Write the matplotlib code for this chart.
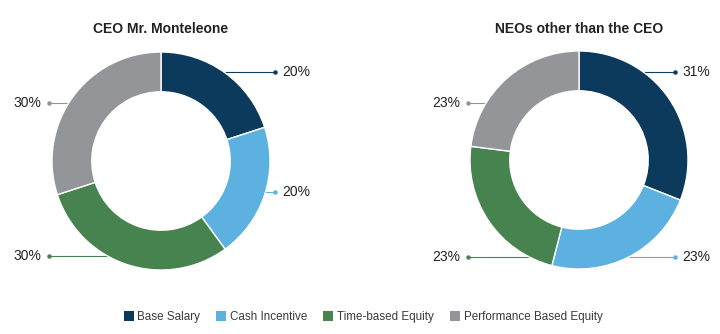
import numpy as np
import matplotlib.pyplot as plt
from matplotlib.patches import Patch

plt.rcParams['font.family'] = ['Liberation Sans', 'DejaVu Sans']

categories = ['Base Salary', 'Cash Incentive', 'Time-based Equity', 'Performance Based Equity']
colors = ['#0c3a5d', '#5cb1e1', '#46834e', '#939598']
ceo_values = [20, 20, 30, 30]
neo_values = [31, 23, 23, 23]
titles = ['CEO Mr. Monteleone', 'NEOs other than the CEO']

# label layout: y of leader line and side, in pie units
ceo_label_y = [0.817, -0.284, -0.872, 0.532]
neo_label_y = [0.807, -0.89, -0.89, 0.523]
ceo_side = [1, 1, -1, -1]
neo_side = [1, 1, -1, -1]

W, H = 720, 334
R = 109.0  # outer radius in px

fig = plt.figure(figsize=(7.2, 3.34), dpi=100)


def donut(rect, cx, cy, values, label_y, side, dot_x, title):
    # rect in figure fraction; cx, cy = centre in px inside the axes box (cy from top)
    ax = fig.add_axes(rect)
    ax.pie(values, colors=colors, startangle=90, counterclock=False, radius=1.0,
           wedgeprops=dict(width=0.365, edgecolor='white', linewidth=1.0))
    wpx = rect[2] * W
    hpx = rect[3] * H
    ax.set_xlim(-cx / R, (wpx - cx) / R)
    ax.set_ylim(-(hpx - cy) / R, cy / R)
    ax.set_aspect('auto')
    ax.axis('off')
    for v, y, s, c in zip(values, label_y, side, colors):
        x0 = s * np.sqrt(max(1 - y ** 2, 0))
        xd = dot_x[0] if s > 0 else dot_x[1]
        ax.plot([x0, xd], [y, y], color=c, lw=0.8, zorder=0)
        ax.plot([xd], [y], 'o', color=c, ms=2.2)
        ax.text(xd + s * 0.07, y, f'{v}%', ha='left' if s > 0 else 'right',
                va='center', fontsize=10, color='#222222')
    ax.text(0, (cy - 29) / R, title, ha='center', va='center',
            fontsize=10, fontweight='bold', color='#222222')
    return ax


donut([0, 0, 0.5, 1], 161, 161, ceo_values, ceo_label_y, ceo_side,
      (1.046, -1.028), titles[0])
donut([0.5, 0, 0.5, 1], 219, 160, neo_values, neo_label_y, neo_side,
      (0.881, -1.018), titles[1])

handles = [Patch(facecolor=c, edgecolor='none') for c in colors]
fig.legend(handles, categories, loc='center', bbox_to_anchor=(363 / W, 17 / H), ncol=4,
           frameon=False, fontsize=8.4, handlelength=0.85, handleheight=0.85,
           handletextpad=0.3, columnspacing=1.4, labelcolor='#3a3a3a')

fig.savefig('out.png', dpi=100)
